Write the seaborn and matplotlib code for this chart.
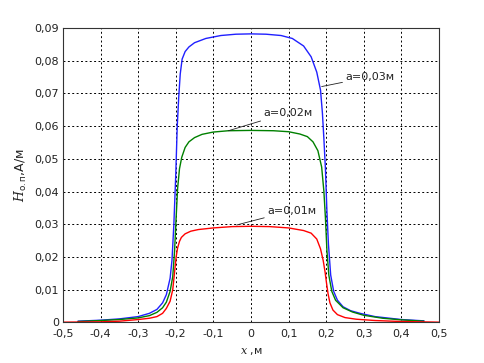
import matplotlib
matplotlib.use('Agg')
import matplotlib.pyplot as plt
import seaborn as sns

# Curves (x in m, H in A/m)
blue_x = [-0.46, -0.4, -0.35, -0.3, -0.27, -0.25, -0.235, -0.225, -0.215, -0.21, -0.205, -0.2,
          -0.196, -0.192, -0.188, -0.183, -0.175, -0.165, -0.15, -0.12, -0.08, -0.04, 0.0,
          0.04, 0.08, 0.11, 0.14, 0.16, 0.175, 0.185, 0.19, 0.194, 0.198, 0.202, 0.206, 0.212,
          0.22, 0.23, 0.245, 0.265, 0.29, 0.33, 0.4, 0.46]
blue_y = [0.0004, 0.0007, 0.0011, 0.0018, 0.0028, 0.0040, 0.0060, 0.0085, 0.0135, 0.019, 0.030, 0.045,
          0.060, 0.069, 0.076, 0.0805, 0.0828, 0.0842, 0.0855, 0.0868, 0.0877, 0.0881, 0.0882,
          0.0881, 0.0877, 0.0868, 0.0845, 0.0812, 0.0765, 0.071, 0.064, 0.056, 0.047, 0.034, 0.024, 0.0145,
          0.0095, 0.0068, 0.0048, 0.0036, 0.0028, 0.0018, 0.0009, 0.0005]

green_x = [-0.46, -0.4, -0.35, -0.3, -0.27, -0.25, -0.235, -0.225, -0.215, -0.208, -0.203, -0.199,
           -0.195, -0.19, -0.184, -0.175, -0.165, -0.15, -0.13, -0.1, -0.06, 0.0, 0.06, 0.1, 0.13,
           0.15, 0.165, 0.178, 0.188, 0.194, 0.198, 0.202, 0.207, 0.215, 0.225, 0.245, 0.27, 0.3,
           0.35, 0.4, 0.46]
green_y = [0.0003, 0.0006, 0.0009, 0.0014, 0.0021, 0.0031, 0.0045, 0.0062, 0.0095, 0.014, 0.022, 0.032,
           0.041, 0.047, 0.0505, 0.0535, 0.0552, 0.0565, 0.0575, 0.0582, 0.0586, 0.0587, 0.0586, 0.0583, 0.0576,
           0.0568, 0.0552, 0.0525, 0.0475, 0.040, 0.032, 0.022, 0.0145, 0.0095, 0.0068, 0.0045, 0.0032, 0.0022,
           0.0013, 0.0008, 0.0004]

red_x = [-0.5, -0.4, -0.35, -0.3, -0.27, -0.25, -0.235, -0.225, -0.215, -0.208, -0.203, -0.199,
         -0.195, -0.19, -0.185, -0.175, -0.16, -0.14, -0.1, -0.05, 0.0, 0.05, 0.1, 0.14, 0.16,
         0.175, 0.185, 0.192, 0.197, 0.201, 0.205, 0.21, 0.218, 0.23, 0.25, 0.28, 0.33, 0.4, 0.5]
red_y = [0.0001, 0.0002, 0.0004, 0.0009, 0.0013, 0.0018, 0.0028, 0.0043, 0.0065, 0.0100, 0.0155, 0.020,
         0.0228, 0.0248, 0.026, 0.0271, 0.0279, 0.0284, 0.0289, 0.0293, 0.0294, 0.0293, 0.0289, 0.0281, 0.0273,
         0.0255, 0.0225, 0.019, 0.0155, 0.012, 0.0088, 0.006, 0.0038, 0.0024, 0.0015, 0.0010, 0.0006, 0.0003, 0.0001]

x_ticks = [-0.5, -0.4, -0.3, -0.2, -0.1, 0, 0.1, 0.2, 0.3, 0.4, 0.5]
x_labels = ['-0,5', '-0,4', '-0,3', '-0,2', '-0,1', '0', '0,1', '0,2', '0,3', '0,4', '0,5']
y_ticks = [0, 0.01, 0.02, 0.03, 0.04, 0.05, 0.06, 0.07, 0.08, 0.09]
y_labels = ['0', '0,01', '0,02', '0,03', '0,04', '0,05', '0,06', '0,07', '0,08', '0,09']

sns.set_style('white')
plt.rcParams['font.family'] = ['DejaVu Sans']
plt.rcParams['mathtext.fontset'] = 'custom'
plt.rcParams['mathtext.it'] = 'DejaVu Serif:italic'
plt.rcParams['mathtext.rm'] = 'DejaVu Sans'

fig = plt.figure(figsize=(4.84, 3.63), dpi=100)
ax = fig.add_axes([0.130, 0.1116, 0.777, 0.8113])

sns.lineplot(x=blue_x, y=blue_y, color='#2020ff', lw=1, ax=ax, sort=False)
sns.lineplot(x=green_x, y=green_y, color='#008000', lw=1, ax=ax, sort=False)
sns.lineplot(x=red_x, y=red_y, color='#ff0000', lw=1, ax=ax, sort=False)

ax.set_xlim(-0.5, 0.5)
ax.set_ylim(0, 0.09)
ax.set_xticks(x_ticks)
ax.set_xticklabels(x_labels)
ax.set_yticks(y_ticks)
ax.set_yticklabels(y_labels)
ax.tick_params(direction='in', length=3, labelsize=8, colors='#222222')
ax.tick_params(axis='x', pad=5)
ax.tick_params(axis='y', pad=3)
ax.grid(True, color='black', linestyle=(0, (2, 2.5)), linewidth=0.7)
for s in ax.spines.values():
    s.set_color('#333333')
    s.set_linewidth(0.8)

ax.set_xlabel(r'$x$ ,м', fontsize=8, color='#222222', labelpad=5)
ax.set_ylabel(r'$H_{\mathrm{о.п}}$,А/м', fontsize=9, color='#222222', labelpad=4)

# labels with leader lines
ann = dict(arrowstyle='-', color='#222222', lw=0.6, shrinkA=0, shrinkB=0)
ax.annotate('a=0,03м', xy=(0.188, 0.0721), xytext=(0.252, 0.0751), fontsize=8,
            va='center', color='#222222', arrowprops=ann)
ax.annotate('a=0,02м', xy=(-0.060, 0.0586), xytext=(0.033, 0.0641), fontsize=8,
            va='center', color='#222222', arrowprops=ann)
ax.annotate('a=0,01м', xy=(-0.038, 0.0298), xytext=(0.044, 0.0342), fontsize=8,
            va='center', color='#222222', arrowprops=ann)

fig.savefig('out.png', dpi=100)
